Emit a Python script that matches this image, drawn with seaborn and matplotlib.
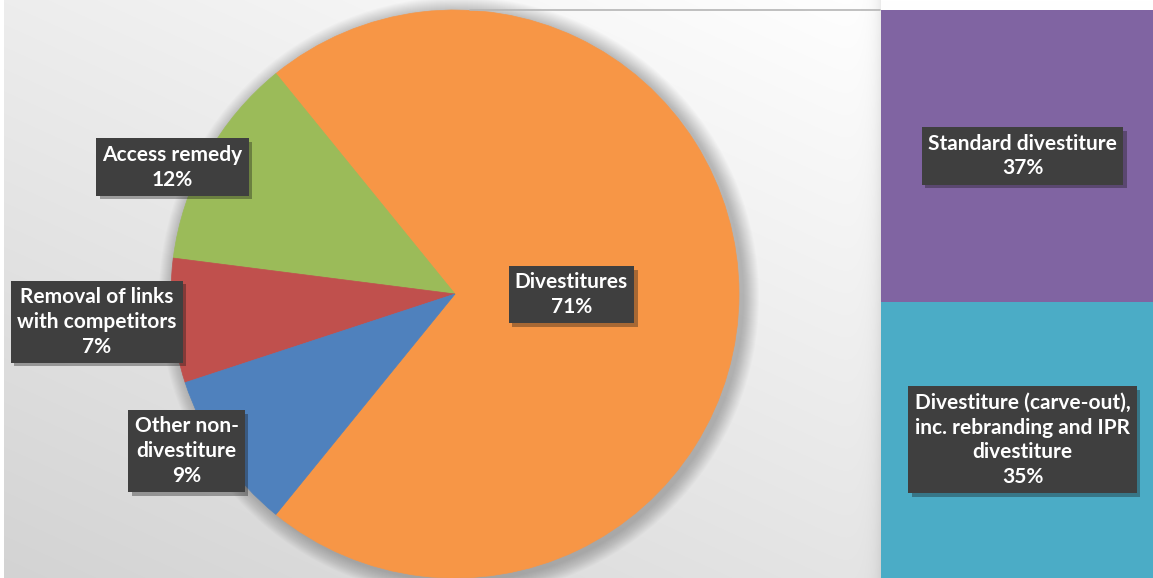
import numpy as np
import matplotlib
matplotlib.use("Agg")
import matplotlib.pyplot as plt
import matplotlib.patheffects as pe
from matplotlib.patches import Circle
import seaborn as sns

# ---- data ----
pie_labels = ["Divestitures", "Access remedy", "Removal of links\nwith competitors", "Other non-\ndivestiture"]
pie_values = [71, 12, 7, 9]
pie_pct = ["71%", "12%", "7%", "9%"]

bar_labels = ["Divestiture (carve-out),\ninc. rebranding and IPR\ndivestiture", "Standard divestiture"]
bar_values = [35, 37]
bar_pct = ["35%", "37%"]

# ---- style ----
sns.set_theme(style="white")
plt.rcParams['font.family'] = ['Lato', 'DejaVu Sans']
pie_colors = ["#F79646", "#9BBB59", "#C0504D", "#4F81BD"]
bar_colors = ["#4BACC6", "#8064A2"]
box_fc = "#3f3f3f"

W, H = 1153, 578
fig = plt.figure(figsize=(W / 100, H / 100), dpi=100)

# background gradient
bg = fig.add_axes([0, 0, 1, 1])
xx, yy = np.meshgrid(np.arange(W), np.arange(H))
v = 255 - 26 * (yy / H) - 18 * np.clip(1 - xx / 880, 0, 1)
d = np.clip(881 - xx, 0, None)
v = v - 22 * np.exp(-d / 7.0) * (xx < 881)
v = np.clip(v, 0, 255) / 255.0
img = np.dstack([v, v, v])
img[:, :4, :] = 1.0
bg.imshow(img, extent=(0, W, H, 0), aspect="auto", interpolation="bilinear")
bg.set_xlim(0, W)
bg.set_ylim(H, 0)
bg.axis("off")

ax = fig.add_axes([0, 0, 1, 1])
ax.patch.set_alpha(0)
cx, cy, R = 455, 284, 284

# soft shadow of the pie
for i in range(16):
    ax.add_patch(Circle((cx + 4, cy - 3), R + 16 - i, color="black", alpha=0.016, lw=0, zorder=0))

start = -pie_values[0] / sum(pie_values) * 180
wedges, _ = ax.pie(pie_values, colors=pie_colors, startangle=start, counterclock=True,
                   center=(cx, cy), radius=R, frame=True,
                   wedgeprops=dict(linewidth=0.5, edgecolor="none"))
for w, c in zip(wedges, pie_colors):
    w.set_edgecolor(c)

ax.plot([470, 880], [568, 568], color="#b5b5b5", lw=1.2, zorder=1)

ax.set_xlim(0, W)
ax.set_ylim(0, H)
ax.set_aspect("auto")
ax.axis("off")


def box_text(axis, x, y, s, transform=None):
    t = axis.text(x, y, s, ha="center", va="center", multialignment="center",
                  color="white", fontsize=15, fontweight="bold", linespacing=1.3,
                  transform=transform if transform is not None else axis.transData,
                  bbox=dict(boxstyle="square,pad=0.3", fc=box_fc, ec="none"), zorder=5)
    t.get_bbox_patch().set_path_effects([pe.SimplePatchShadow(offset=(2.5, -2.5), alpha=0.35),
                                         pe.Normal()])
    return t


# pie labels placed relative to wedge geometry
placement = [(0.41, 0.0), (1.09, 4.9), (1.265, -1.0), (1.095, -4.2)]
for i, (w, lab, pct, (rf, dth)) in enumerate(zip(wedges, pie_labels, pie_pct, placement)):
    mid = (w.theta1 + w.theta2) / 2
    if i == 0:
        mid = -0.4
    ang = np.deg2rad(mid + dth)
    box_text(ax, cx + rf * R * np.cos(ang), cy + rf * R * np.sin(ang), f"{lab}\n{pct}")

# stacked bar of the divestiture breakdown
axb = fig.add_axes([881 / W, 0, (W - 881) / W, 568 / H])
bottoms = np.concatenate([[0], np.cumsum(bar_values)[:-1]])
axb.bar([0] * len(bar_values), bar_values, bottom=bottoms, width=1.0, color=bar_colors,
        linewidth=0, edgecolor="none")
axb.set_xlim(-0.5, 0.5)
axb.set_ylim(0, sum(bar_values))
axb.axis("off")
for b0, val, lab, pct in zip(bottoms, bar_values, bar_labels, bar_pct):
    box_text(axb, 0.02, b0 + val / 2, f"{lab}\n{pct}")

fig.savefig("out.png", dpi=100)
